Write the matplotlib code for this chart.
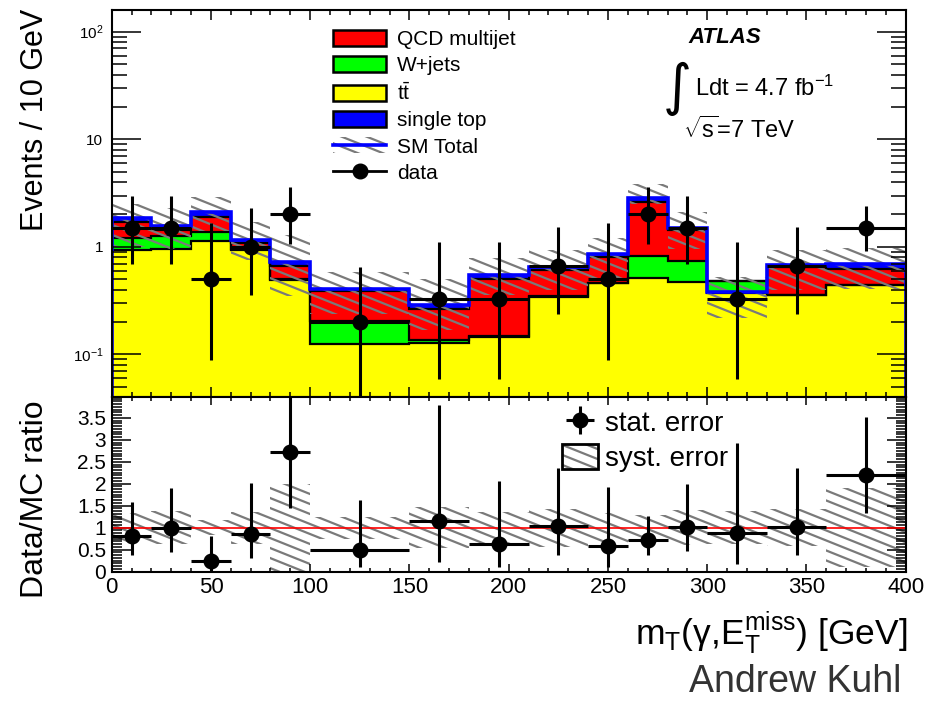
"""
m_T(gamma, MET) control region: stacked backgrounds + data, with Data/MC ratio
"""
import matplotlib
matplotlib.use('Agg')
import matplotlib.pyplot as plt
import matplotlib.hatch as mhatch
from matplotlib.path import Path
from matplotlib.patches import Patch
from matplotlib.lines import Line2D
from matplotlib.ticker import MultipleLocator, LogLocator, NullFormatter, FormatStrFormatter
import numpy as np

plt.rcParams['font.family'] = ['Liberation Sans', 'DejaVu Sans']
plt.rcParams['mathtext.fontset'] = 'custom'
plt.rcParams['mathtext.rm'] = 'Liberation Sans'
plt.rcParams['mathtext.it'] = 'Liberation Sans:italic'
plt.rcParams['mathtext.bf'] = 'Liberation Sans:bold'
plt.rcParams['hatch.linewidth'] = 1.6
plt.rcParams['hatch.color'] = '#7a7a7a'

# binning (GeV) and backgrounds, events / 10 GeV
bin_edges = [0, 20, 40, 60, 80, 100, 150, 180, 210, 240, 260, 280, 300, 330, 360, 400]
ttbar = [0.935, 0.96, 1.13, 0.93, 0.49, 0.125, 0.127, 0.145, 0.345, 0.46, 0.51, 0.475, 0.37, 0.355, 0.44]
wjets = [0.265, 0.29, 0.25, 0.02, 0.01, 0.08, 0.01, 0.002, 0.005, 0.005, 0.31, 0.265, 0.115, 0.005, 0.005]
qcd = [0.50, 0.20, 0.52, 0.13, 0.16, 0.18, 0.13, 0.36, 0.26, 0.335, 1.81, 0.70, 0.0, 0.285, 0.175]
sm_total = [1.85, 1.55, 2.12, 1.16, 0.72, 0.41, 0.289, 0.548, 0.655, 0.86, 2.83, 1.51, 0.38, 0.68, 0.69]
# hatched uncertainty band on the SM total
band_hi = [2.5, 2.3, 2.9, 1.7, 1.3, 0.59, 0.5, 0.78, 0.93, 1.2, 3.8, 2.1, 0.53, 0.93, 0.98]
band_lo = [1.0, 0.95, 1.4, 0.75, 0.35, 0.24, 0.17, 0.36, 0.40, 0.5, 2.5, 0.95, 0.22, 0.40, 0.41]

# data, events / 10 GeV, with ends of the stat. error bars
data = [1.5, 1.5, 0.5, 1.0, 2.0, 0.2, 0.33, 0.33, 0.67, 0.5, 2.0, 1.5, 0.33, 0.67, 1.5]
data_lo = [0.69, 0.69, 0.089, 0.36, 1.06, 0.03, 0.059, 0.059, 0.24, 0.089, 1.06, 0.69, 0.059, 0.24, 0.92]
data_hi = [2.97, 2.97, 1.66, 2.31, 3.58, 0.65, 1.10, 1.10, 1.54, 1.66, 3.58, 2.97, 1.10, 1.54, 2.40]

# Data/MC ratio and relative syst. error
ratio = [0.82, 0.99, 0.25, 0.86, 2.73, 0.49, 1.16, 0.64, 1.04, 0.59, 0.72, 1.02, 0.87, 1.02, 2.21]
ratio_lo = [0.38, 0.45, 0.0, 0.32, 1.44, 0.11, 0.21, 0.11, 0.38, 0.11, 0.39, 0.48, 0.18, 0.38, 1.34]
ratio_hi = [1.59, 1.91, 0.80, 2.01, 4.20, 1.63, 3.79, 2.07, 2.35, 1.93, 1.27, 1.99, 2.92, 2.35, 3.52]
syst_rel = [0.33, 0.38, 0.17, 0.36, 1.0, 0.25, 0.47, 0.35, 0.43, 0.34, 0.30, 0.40, 0.38, 0.42, 0.90]


class FlatBackslash(mhatch.HatchPatternBase):
    """ROOT-like '\\' hatch, flatter than the 45 degree matplotlib one"""

    def __init__(self, hatch, density):
        n = hatch.count('\\')
        self.per_tile = 10 * n
        self.drop = 4 * n
        self.num_lines = self.per_tile + self.drop + 1 if n else 0
        self.num_vertices = self.num_lines * 2

    def set_vertices_and_codes(self, vertices, codes):
        c = np.arange(self.num_lines) / self.per_tile
        vertices[0::2, 0] = 0.0
        vertices[0::2, 1] = c
        vertices[1::2, 0] = 1.0
        vertices[1::2, 1] = c - self.drop / self.per_tile
        codes[0::2] = Path.MOVETO
        codes[1::2] = Path.LINETO


mhatch._hatch_types[mhatch._hatch_types.index(mhatch.SouthEastHatch)] = FlatBackslash


def style_axes(a):
    for s in a.spines.values():
        s.set_linewidth(1.5)
    a.tick_params(which='both', direction='in', top=True, right=True, width=1.1)
    a.xaxis.set_major_locator(MultipleLocator(50))
    a.xaxis.set_minor_locator(MultipleLocator(10))
    a.set_xlim(bin_edges[0], bin_edges[-1])


def main():
    edges = np.array(bin_edges, dtype=float)
    centres = (edges[:-1] + edges[1:]) / 2
    half = np.diff(edges) / 2
    floor = 1e-3

    lvl_tt = np.array(ttbar)
    lvl_w = lvl_tt + np.array(wjets)
    lvl_qcd = lvl_w + np.array(qcd)
    total = np.array(sm_total)
    rel = np.array(syst_rel)

    fig = plt.figure(figsize=(9.3, 7.01), dpi=100)
    ax = fig.add_axes([0.1201, 0.4341, 0.8538, 0.5516])
    rax = fig.add_axes([0.1201, 0.1845, 0.8538, 0.2496])

    # --- main panel ---
    ax.set_yscale('log')
    ax.stairs(lvl_tt, edges, baseline=floor, fill=True, color='#ffff00')
    ax.stairs(lvl_w, edges, baseline=lvl_tt, fill=True, color='#00ff00')
    ax.stairs(lvl_qcd, edges, baseline=lvl_w, fill=True, color='#ff0000')
    ax.stairs(np.maximum(total, lvl_qcd), edges, baseline=lvl_qcd, fill=True, color='#0000ff')
    for lvl in (lvl_tt, lvl_w, lvl_qcd):
        ax.stairs(lvl, edges, baseline=None, color='black', lw=1.6)

    ax.stairs(band_hi, edges, baseline=band_lo, fill=True,
              facecolor='none', edgecolor='#7a7a7a', lw=0, hatch='\\')
    ax.stairs(total, edges, baseline=floor, color='#0000ff', lw=2.6)

    y = np.array(data)
    ax.errorbar(centres, y, xerr=half, yerr=[y - np.array(data_lo), np.array(data_hi) - y],
                fmt='o', color='black', ms=10.5, elinewidth=2.2, capsize=0, zorder=10)

    style_axes(ax)
    ax.set_ylim(0.0405, 159)
    ax.set_yticks([0.1, 1, 10, 100])
    ax.set_yticklabels(['$10^{-1}$', '1', '10', '$10^{2}$'])
    ax.yaxis.set_minor_locator(LogLocator(base=10, subs=np.arange(2, 10)))
    ax.yaxis.set_minor_formatter(NullFormatter())
    ax.tick_params(axis='y', which='major', length=21, labelsize=11, pad=6)
    ax.tick_params(axis='y', which='minor', length=11)
    ax.tick_params(axis='x', which='major', length=7, labelbottom=False)
    ax.tick_params(axis='x', which='minor', length=3.5)

    handles = [
        Patch(facecolor='#ff0000', edgecolor='black', lw=1.8),
        Patch(facecolor='#00ff00', edgecolor='black', lw=1.8),
        Patch(facecolor='#ffff00', edgecolor='black', lw=1.8),
        Patch(facecolor='#0000ff', edgecolor='black', lw=1.8),
        (Patch(facecolor='none', edgecolor='#7a7a7a', lw=0, hatch='\\'),
         Line2D([], [], color='#0000ff', lw=2.6)),
        Line2D([], [], color='black', lw=2, marker='o', ms=10.5),
    ]
    labels = ['QCD multijet', 'W+jets', r'$\mathrm{t\bar{t}}$', 'single top', 'SM Total', 'data']
    ax.legend(handles, labels, loc='upper left', bbox_to_anchor=(0.2787, 0.949),
              frameon=False, fontsize=15, borderpad=0, borderaxespad=0,
              handlelength=2.55, handleheight=0.82, handletextpad=0.51, labelspacing=0.33)

    fig.text(688 / 930, 1 - 43 / 701, 'ATLAS', fontsize=16, fontweight='bold', style='italic')
    fig.text(663 / 930, 1 - 89 / 701, '\u222b', fontsize=40, family='DejaVu Sans', va='center')
    fig.text(695 / 930, 1 - 96 / 701, 'Ldt = 4.7 fb$^{-1}$', fontsize=17)
    fig.text(683 / 930, 1 - 138 / 701, r'$\sqrt{\mathrm{s}}$=7 TeV', fontsize=17)

    # --- ratio panel ---
    rax.stairs(1 + rel, edges, baseline=np.maximum(1 - rel, 0), fill=True,
               facecolor='none', edgecolor='#7a7a7a', lw=0, hatch='\\')
    rax.axhline(1, color='red', lw=1.2)
    r = np.array(ratio)
    stat = rax.errorbar(centres, r, xerr=half, yerr=[r - np.array(ratio_lo), np.array(ratio_hi) - r],
                        fmt='o', color='black', ms=10.5, elinewidth=2.2, capsize=0, zorder=10)

    style_axes(rax)
    rax.set_ylim(0, 3.98)
    rax.yaxis.set_major_locator(MultipleLocator(0.5))
    rax.yaxis.set_minor_locator(MultipleLocator(0.0625))
    rax.yaxis.set_major_formatter(FormatStrFormatter('%g'))
    rax.tick_params(axis='y', which='major', length=14, labelsize=15, pad=4)
    rax.tick_params(axis='y', which='minor', length=7)
    rax.tick_params(axis='x', which='major', length=6, labelsize=16, pad=4)
    rax.tick_params(axis='x', which='minor', length=3)

    syst_handle = (Patch(facecolor='none', edgecolor='#7a7a7a', lw=0, hatch='\\'),
                   Patch(facecolor='none', edgecolor='black', lw=2))
    rax.legend([stat, syst_handle], ['stat. error', 'syst. error'], loc='upper left',
               bbox_to_anchor=(0.567, 0.931), frameon=False, fontsize=20, borderpad=0,
               borderaxespad=0, handlelength=1.3, handleheight=1.04, handletextpad=0.25,
               labelspacing=0.24)

    # --- axis titles ---
    fig.text(35 / 930, 1 - 120 / 701, 'Events / 10 GeV', rotation=90, fontsize=22,
             ha='center', va='center')
    fig.text(35 / 930, 1 - 499 / 701, 'Data/MC ratio', rotation=90, fontsize=23,
             ha='center', va='center')
    fig.text(907 / 930, 1 - 645 / 701,
             'm$_{\\mathrm{T}}$(\u03b3,E$_{\\mathrm{T}}^{\\mathrm{miss}}$) [GeV]',
             fontsize=25.5, ha='right', va='baseline')
    fig.text(901 / 930, 1 - 700 / 701, 'Andrew Kuhl', fontsize=27, color='#333333',
             ha='right', va='bottom')

    fig.savefig('out.png', dpi=100)
    plt.close(fig)


if __name__ == "__main__":
    main()
